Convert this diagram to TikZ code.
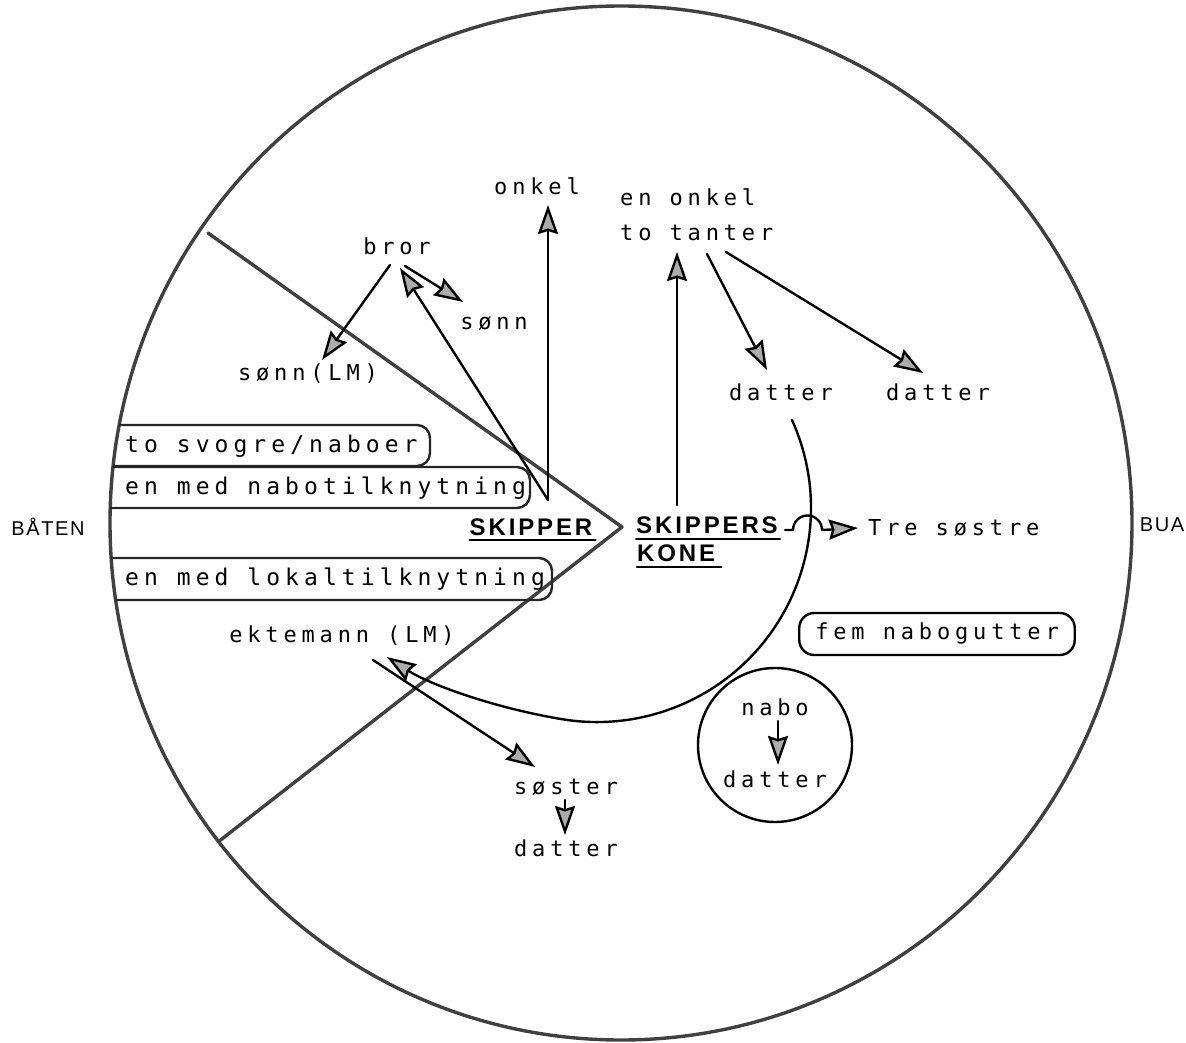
\documentclass[tikz,border=0pt]{standalone}
\usepackage{fontspec}
\usetikzlibrary{arrows.meta}
\newfontfamily\typer[LetterSpace=22]{DejaVu Sans Mono}
\newfontfamily\heavy[LetterSpace=12]{Liberation Sans}
\newfontfamily\sidefont[LetterSpace=8]{Liberation Sans}
\tikzset{
	word/.style={font=\typer\fontsize{22}{35}\selectfont, inner sep=0pt},
	bandword/.style={font=\typer\fontsize{23}{35}\selectfont, inner sep=0pt},
	bold/.style={font=\heavy\bfseries\fontsize{24}{28}\selectfont, inner sep=0pt},
	side/.style={font=\sidefont\fontsize{20}{24}\selectfont, inner sep=0pt},
	kin/.style={line width=2.4pt, -{Stealth[length=29pt,width=20pt,inset=3pt,fill=gray!65]}},
	wall/.style={line width=3.4pt, black!75},
	band/.style={line width=2.4pt, black!85, rounded corners=13pt},
	under/.style={line width=2.2pt},
}
\begin{document}
\begin{tikzpicture}[x=1pt, y={(0,-1pt)}, line cap=round, line join=round]
	\useasboundingbox (0,0) rectangle (1186,1043);
	
	% Outer ring and the wedge
	\draw[wall] (621,523) ellipse [x radius=511, y radius=517];
	\draw[wall] (208,233) -- (622,527) -- (218,842);
	
	% Bands on the left, clipped by the ring
	\begin{scope}
		\clip (621,523) ellipse [x radius=511, y radius=517];
		\draw[band] (60,425) rectangle (430,466);
		\draw[band] (60,467) rectangle (530,508);
		\draw[band] (60,558) rectangle (552,600);
	\end{scope}
	\node[bandword, anchor=west] (svogre) at (125,446) {to svogre/naboer};
	\node[bandword, anchor=west] (nabotil) at (125,488) {en med nabotilknytning};
	\node[bandword, anchor=west] (lokal) at (125,579) {en med lokaltilknytning};
	
	% Side labels
	\node[side] (baten) at (48,527) {BÅTEN};
	\node[side] (bua) at (1162,525) {BUA};
	
	% Centre persons
	\node[bold] (skipper) at (531,527) {SKIPPER};
	\node[bold] (skk) at (707,525) {SKIPPERS};
	\node[bold, anchor=west] (kone) at (637,553) {KONE};
	\draw[under] ([yshift=-4pt]skipper.south west) -- ([yshift=-4pt,xshift=3pt]skipper.south east);
	\draw[under] ([yshift=-5pt]skk.south west) -- ([yshift=-5pt,xshift=2pt]skk.south east);
	\draw[under] ([yshift=-5pt]kone.south west) -- ([yshift=-5pt,xshift=6pt]kone.south east);
	
	% Skipper's side
	\node[word] (onkel) at (537,186) {onkel};
	\node[word] (bror) at (397,246) {bror};
	\node[word] (sonn) at (494,324) {sønn};
	\node[word] (sonnlm) at (308,374) {sønn(LM)};
	\coordinate (skfoot) at (548,500);
	\draw[kin] (skfoot) -- (548,205);
	\draw[kin] (skfoot) -- (400,268);
	\draw[kin] (390,265) -- (322,360);
	\draw[kin] (405,266) -- (463,302);
	
	% Wife's side
	\node[word, align=left, anchor=west] (tanter) at (620,215) {en onkel\\to tanter};
	\node[word] (dat1) at (781,392) {datter};
	\node[word] (dat2) at (938,392) {datter};
	\coordinate (kofoot) at (677,505);
	\draw[kin] (kofoot) -- (677,252);
	\draw[kin] (707,254) -- (767,370);
	\draw[kin] (726,252) -- (923,373);
	
	\node[word, anchor=west] (tre) at (868,528) {Tre søstre};
	\coordinate (hop) at (793,530);
	\draw[kin] ([xshift=7pt,yshift=-5pt]skk.east) -- (hop)
		arc[start angle=180, end angle=360, radius=14.5] -- ([xshift=-10pt]tre.west);
	
	% Long bend down to the husband
	\node[word] (ekte) at (342,636) {ektemann (LM)};
	\coordinate (bendtop) at (792,420);
	\coordinate (bendend) at (387,657);
	\draw[kin] (bendtop) arc[start angle=-24.3, end angle=100, radius=214]
		.. controls (491,707) and (429,684) .. (bendend);
	
	\node[word] (soster) at (566,787) {søster};
	\node[word] (sdat) at (566,848) {datter};
	\draw[kin] (373,660) -- (535,767);
	\draw[kin] (565,800) -- (565,835);
	
	% Neighbours
	\node[word, draw, line width=2.4pt, rounded corners=15pt, minimum height=42pt,
		inner xsep=16pt] (fem) at (937,634) {fem nabogutter};
	\node[circle, draw, line width=2.4pt, minimum size=154pt] (ring) at (775,745) {};
	\node[word] (nabo) at (775,707) {nabo};
	\node[word] (ndat) at (775,779) {datter};
	\draw[kin] (778,721) -- (778,765);
\end{tikzpicture}
\end{document}
